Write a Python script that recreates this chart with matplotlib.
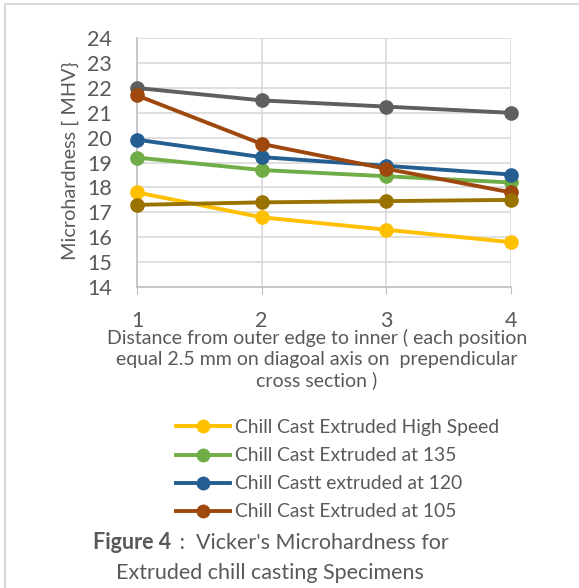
import matplotlib.pyplot as plt
from matplotlib.lines import Line2D

# data
positions = [1, 2, 3, 4]
gray_vals = [22.0, 21.5, 21.25, 21.0]
high_speed = [17.8, 16.8, 16.3, 15.8]
at_135 = [19.2, 18.7, 18.45, 18.2]
at_120 = [19.92, 19.22, 18.87, 18.52]
at_105 = [21.7, 19.75, 18.75, 17.8]
olive_vals = [17.3, 17.4, 17.45, 17.5]

legend_labels = ["Chill Cast Extruded High Speed", "Chill Cast Extruded at 135",
                 "Chill Castt extruded at 120", "Chill Cast Extruded at 105"]

plt.rcParams['font.family'] = ['Lato', 'DejaVu Sans']
txt = '#595959'

fig = plt.figure(figsize=(5.79, 5.88), dpi=100)
ax = fig.add_axes([0.2366, 0.512, 0.6460, 0.423])

series = [
    (gray_vals, '#5f5f5f'),
    (at_105, '#9e480e'),
    (at_120, '#255e91'),
    (at_135, '#70ad47'),
    (olive_vals, '#997300'),
    (high_speed, '#ffc000'),
]
# draw order: keep yellow below olive like the reference
order = [0, 5, 3, 2, 1, 4]
for i in order:
    vals, c = series[i]
    ax.plot(positions, vals, color=c, lw=2.8, marker='o', ms=9.5, zorder=3,
            clip_on=False)

ax.set_xlim(1, 4)
ax.set_ylim(14, 24)
ax.set_xticks(positions)
ax.set_yticks(range(14, 25))
ax.grid(True, color='#d9d9d9', lw=1.2)
for s in ['top', 'right']:
    ax.spines[s].set_visible(False)
ax.spines['left'].set_color('#bfbfbf')
ax.spines['bottom'].set_color('#bfbfbf')
ax.spines['left'].set_linewidth(1.2)
ax.spines['bottom'].set_linewidth(1.2)
ax.tick_params(axis='y', length=0, labelsize=15.5, labelcolor=txt, pad=18)
ax.tick_params(axis='x', length=5, color='#bfbfbf', labelsize=15.5, labelcolor=txt, pad=12)

fig.text(0.121, 0.726, "Microhardness [ MHV}", fontsize=14.3, color=txt,
         rotation=90, ha='center', va='center')
fig.text(0.547, 0.389,
         "Distance from outer edge to inner ( each position\nequal 2.5 mm on diagoal axis on  prependicular\ncross section )",
         ha='center', va='center', fontsize=14, color=txt, linespacing=1.27)

handles = [Line2D([], [], color=c, lw=2.8, marker='o', ms=9)
           for c in ['#ffc000', '#70ad47', '#255e91', '#9e480e']]
fig.legend(handles, legend_labels, loc='center left', bbox_to_anchor=(0.288, 0.201),
           frameon=False, fontsize=13.9, labelcolor=txt, handlelength=2.8,
           handletextpad=0.25, labelspacing=0.575, borderpad=0)

fig.text(0.296, 0.077, "Figure 4", fontsize=15.5, color=txt, fontweight='bold',
         ha='right', va='center')
fig.text(0.300, 0.077, " :  Vicker's Microhardness for", fontsize=15.5, color=txt,
         ha='left', va='center')
fig.text(0.2, 0.026, "Extruded chill casting Specimens", fontsize=15.5, color=txt,
         ha='left', va='center')

# chart area frame (top and left edges visible)
fig.add_artist(Line2D([0.0086, 1.0], [0.993, 0.993], color='#d9d9d9', lw=1.5,
                      transform=fig.transFigure))
fig.add_artist(Line2D([0.0086, 0.0086], [0.0, 0.993], color='#d9d9d9', lw=1.5,
                      transform=fig.transFigure))

fig.savefig("out.png", dpi=100)
